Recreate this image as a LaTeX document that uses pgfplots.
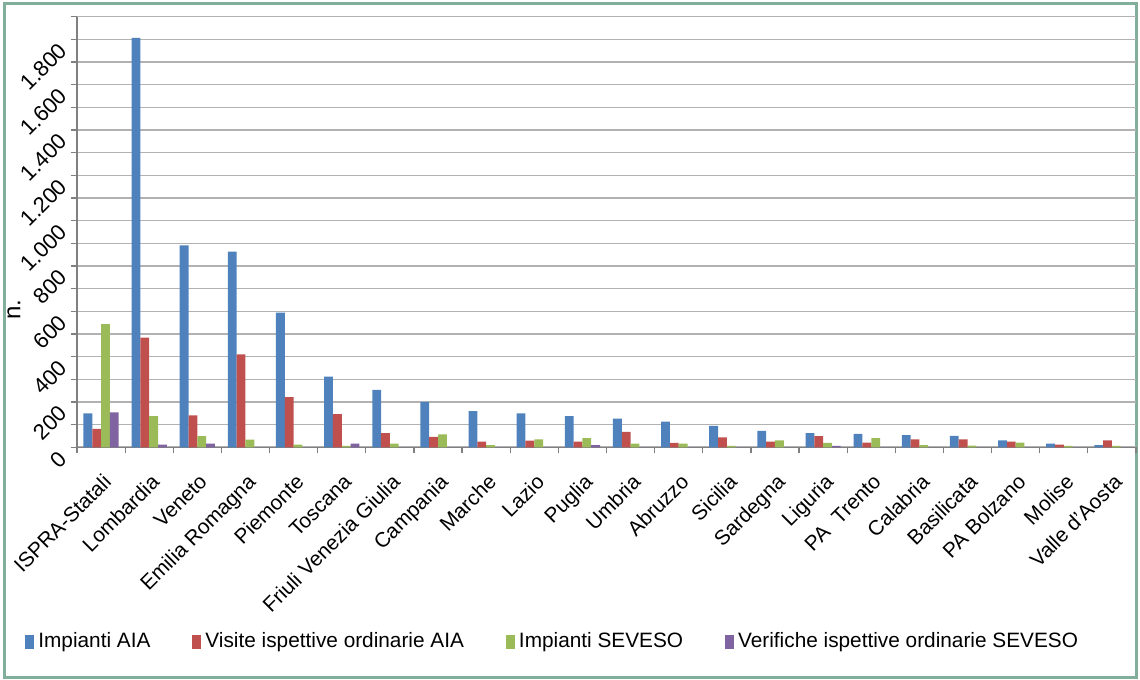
\documentclass[border=0pt]{standalone}
\usepackage{pgfplots}
\usepackage{pgfplotstable}
\pgfplotsset{compat=1.18}
\usepackage{fontspec}
\setmainfont{Liberation Sans}

\definecolor{cAIA}{HTML}{4F81BD}
\definecolor{cVIS}{HTML}{C0504D}
\definecolor{cSEV}{HTML}{9BBB59}
\definecolor{cVER}{HTML}{8064A2}
\definecolor{frame}{HTML}{82AF9B}
\newcommand\fs{\fontsize{10.4bp}{12bp}\selectfont}

% columns: impianti AIA, visite AIA, impianti SEVESO, verifiche SEVESO
\pgfplotstableread{
x aia vis sev ver
0  150  81 544 154
1 1807 484 137  12
2  891 141  49  16
3  863 410  34   0
4  594 221  12   0
5  312 146   6  16
6  253  63  16   0
7  200  46  57   0
8  160  25  10   0
9  150  29  35   0
10 137  25  40  10
11 126  68  16   0
12 113  19  16   0
13  94  44   6   0
14  72  25  31   0
15  62  49  19   6
16  59  21  40   0
17  54  35  10   0
18  50  35   7   0
19  31  25  21   0
20  16  12   6   0
21  10  31   6   0
}\datatable

\begin{document}
\begin{tikzpicture}
\path[use as bounding box] (0,0) rectangle (570bp,340bp);
\draw[frame, line width=1.5bp] (2bp,1.5bp) rectangle (568bp,338bp);
\begin{axis}[
  at={(38.5bp,116.35bp)}, anchor=south west,
  scale only axis, width=529.5bp, height=215.3bp,
  xmin=-0.5, xmax=21.5, ymin=0, ymax=1900,
  axis x line*=bottom, axis y line*=left,
  axis line style={draw=black!50, line width=0.6bp},
  tick style={draw=black!50, line width=0.6bp},
  tick align=outside,
  major tick length=3bp, minor tick length=3bp,
  ytick={0,200,...,1800},
  minor ytick={100,300,...,1900},
  ymajorgrids, yminorgrids,
  major grid style={draw=black!30, line width=0.8bp},
  minor grid style={draw=black!30, line width=0.8bp},
  xtick={0,...,21},
  major x tick style={draw=none},
  minor xtick={-0.5,0.5,...,21.5},
  xticklabels={ISPRA-Statali, Lombardia, Veneto, Emilia Romagna, Piemonte,
    Toscana, Friuli Venezia Giulia, Campania, Marche, Lazio, Puglia, Umbria,
    Abruzzo, Sicilia, Sardegna, Liguria, PA\hspace{0.3em} Trento, Calabria,
    Basilicata, PA Bolzano, Molise, Valle d'Aosta},
  xticklabel style={font=\fs, rotate=45, anchor=north east, inner sep=1bp,
    xshift=-5.5bp, yshift=-6bp},
  yticklabel style={font=\fontsize{11bp}{13bp}\selectfont, rotate=45,
    anchor=east, xshift=-2bp},
  /pgf/number format/1000 sep={.},
  /pgf/number format/assume math mode=true,
  ylabel={n.},
  ylabel style={at={(axis description cs:-0.0595,0.319)}, anchor=center,
    font=\fontsize{12bp}{14bp}\selectfont},
  legend columns=4,
  legend cell align=left,
  legend style={at={(-0.0548,-0.4515)}, anchor=west, draw=none, fill=none,
    font=\fs, /tikz/every even column/.append style={column sep=19bp}},
  legend image code/.code={\path[#1] (0bp,-3.5bp) rectangle (4.5bp,3.5bp);},
]
\addplot[ybar, bar width=0.183, bar shift=-0.2745, fill=cAIA, draw=none]
  table[x=x, y=aia] {\datatable};
\addplot[ybar, bar width=0.183, bar shift=-0.0915, fill=cVIS, draw=none]
  table[x=x, y=vis] {\datatable};
\addplot[ybar, bar width=0.183, bar shift=0.0915, fill=cSEV, draw=none]
  table[x=x, y=sev] {\datatable};
\addplot[ybar, bar width=0.183, bar shift=0.2745, fill=cVER, draw=none]
  table[x=x, y=ver] {\datatable};
\legend{Impianti AIA, Visite ispettive ordinarie AIA, Impianti SEVESO,
  Verifiche ispettive ordinarie SEVESO}
\end{axis}
\end{tikzpicture}
\end{document}
